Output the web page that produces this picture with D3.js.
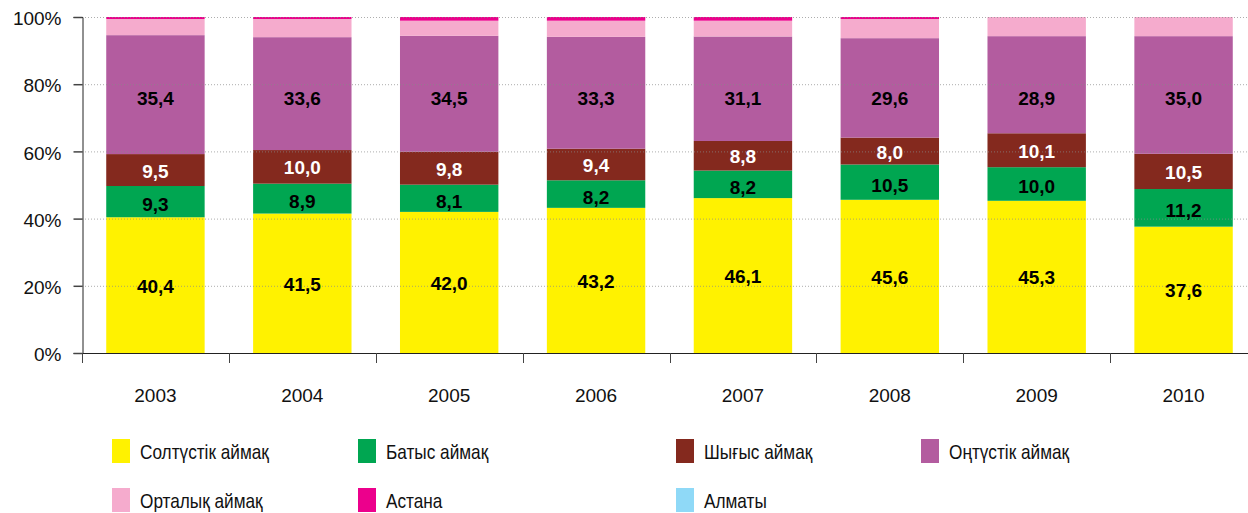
<!DOCTYPE html>
<html>
<head>
<meta charset="utf-8">
<script src="https://cdn.jsdelivr.net/npm/d3@7"></script>
<style>
  html, body { margin: 0; padding: 0; background: #fff; }
  svg { display: block; font-family: "Liberation Sans", Arial, sans-serif; }
</style>
</head>
<body>
<svg id="chart" width="1248" height="513"></svg>
<script>
const years = ["2003", "2004", "2005", "2006", "2007", "2008", "2009", "2010"];
const seriesNames = ["Солтүстік аймақ", "Батыс аймақ", "Шығыс аймақ", "Оңтүстік аймақ", "Орталық аймақ", "Астана", "Алматы"];
const north   = [40.4, 41.5, 42.0, 43.2, 46.1, 45.6, 45.3, 37.6];
const west    = [9.3, 8.9, 8.1, 8.2, 8.2, 10.5, 10.0, 11.2];
const east    = [9.5, 10.0, 9.8, 9.4, 8.8, 8.0, 10.1, 10.5];
const south   = [35.4, 33.6, 34.5, 33.3, 31.1, 29.6, 28.9, 35.0];
const central = [4.8, 5.4, 4.5, 4.8, 4.7, 5.7, 5.7, 5.7];
const astana  = [0.6, 0.6, 1.1, 1.1, 1.1, 0.6, 0.0, 0.0];
const almaty  = [0, 0, 0, 0, 0, 0, 0, 0];
const yTicks = [0, 20, 40, 60, 80, 100];
const colors = ["#FFF200", "#00A651", "#84291E", "#B35C9F", "#F5ABCD", "#EC008C", "#8FD9F7"];
const labelColors = ["#000", "#000", "#fff", "#000"];
// level (in %) where the south-region labels sit in the original
const southLabelLevel = 75.6;

const seriesValues = [north, west, east, south, central, astana, almaty];
const table = years.map((y, i) => {
  const row = { year: y };
  seriesNames.forEach((s, k) => row[s] = seriesValues[k][i]);
  return row;
});

const svg = d3.select("#chart");
const x = d3.scaleBand().domain(years).range([82, 1257]).paddingInner(0.33).paddingOuter(0.165);
const y = d3.scaleLinear().domain([0, 100]).range([353, 17]);

const stacked = d3.stack().keys(seriesNames)(table);

const layers = svg.append("g").selectAll("g").data(stacked).join("g")
  .attr("fill", (d, i) => colors[i]);
layers.selectAll("rect").data(d => d).join("rect")
  .attr("x", d => x(d.data.year))
  .attr("width", x.bandwidth())
  .attr("y", d => y(d[1]))
  .attr("height", d => y(d[0]) - y(d[1]));

// gridlines (dotted, drawn over bars)
svg.append("g").selectAll("line").data(yTicks.filter(t => t > 0)).join("line")
  .attr("x1", 82).attr("x2", 1248)
  .attr("y1", d => y(d) + 0.5).attr("y2", d => y(d) + 0.5)
  .attr("stroke", "#8a8a8a").attr("stroke-opacity", 0.7)
  .attr("stroke-width", 1).attr("stroke-dasharray", "1,2");

// value labels
const fmt = v => d3.format(".1f")(v).replace(".", ",");
const labelY = (d, k) => {
  if (k === 3) return y(southLabelLevel);
  const mid = (y(d[0]) + y(d[1])) / 2;
  return mid + (k === 1 ? 3 : 1);
};
stacked.slice(0, 4).forEach((layer, k) => {
  svg.append("g").selectAll("text").data(layer).join("text")
    .attr("x", d => x(d.data.year) + x.bandwidth() / 2)
    .attr("y", d => labelY(d, k))
    .attr("text-anchor", "middle")
    .attr("dominant-baseline", "central")
    .attr("font-size", 19)
    .attr("font-weight", "bold")
    .attr("fill", labelColors[k])
    .text(d => fmt(d.data[seriesNames[k]]));
});

// y axis
const yAxis = svg.append("g").attr("transform", "translate(82.5,0)")
  .call(d3.axisLeft(y).tickValues(yTicks).tickFormat(d => d + "%").tickSize(9).tickPadding(12));
yAxis.select(".domain").attr("stroke", "#222");
yAxis.selectAll(".tick line").attr("stroke", "#444").attr("stroke-width", 1.5);
yAxis.selectAll("text").attr("font-size", 19).attr("fill", "#111").attr("dy", "0.4em")
  .attr("font-family", "'Liberation Sans', Arial, sans-serif");

// x axis
const xAxis = svg.append("g").attr("transform", "translate(0,353.5)")
  .call(d3.axisBottom(x).tickSize(0).tickPadding(35));
xAxis.select(".domain").attr("d", "M82,0H1248").attr("stroke", "#222");
xAxis.selectAll("text").attr("font-size", 19).attr("fill", "#111")
  .attr("font-family", "'Liberation Sans', Arial, sans-serif");
svg.append("g").selectAll("line").data(years).join("line")
  .attr("x1", d => Math.round(x(d) - x.step() * 0.165) + 0.5)
  .attr("x2", d => Math.round(x(d) - x.step() * 0.165) + 0.5)
  .attr("y1", 353).attr("y2", 363)
  .attr("stroke", "#444").attr("stroke-width", 1);

// legend
const legendCols = [112, 358, 676, 921];
const legendRows = [451, 500];
const legend = svg.append("g").selectAll("g").data(seriesNames).join("g")
  .attr("transform", (d, i) => `translate(${legendCols[i % 4]},${legendRows[Math.floor(i / 4)]})`);
legend.append("rect").attr("x", 0).attr("y", -12).attr("width", 18).attr("height", 24)
  .attr("fill", (d, i) => colors[i]);
legend.append("text")
  .attr("transform", "translate(28,1) scale(0.82,1)")
  .attr("dominant-baseline", "central")
  .attr("font-size", 21).attr("fill", "#111")
  .text(d => d);
</script>
</body>
</html>
